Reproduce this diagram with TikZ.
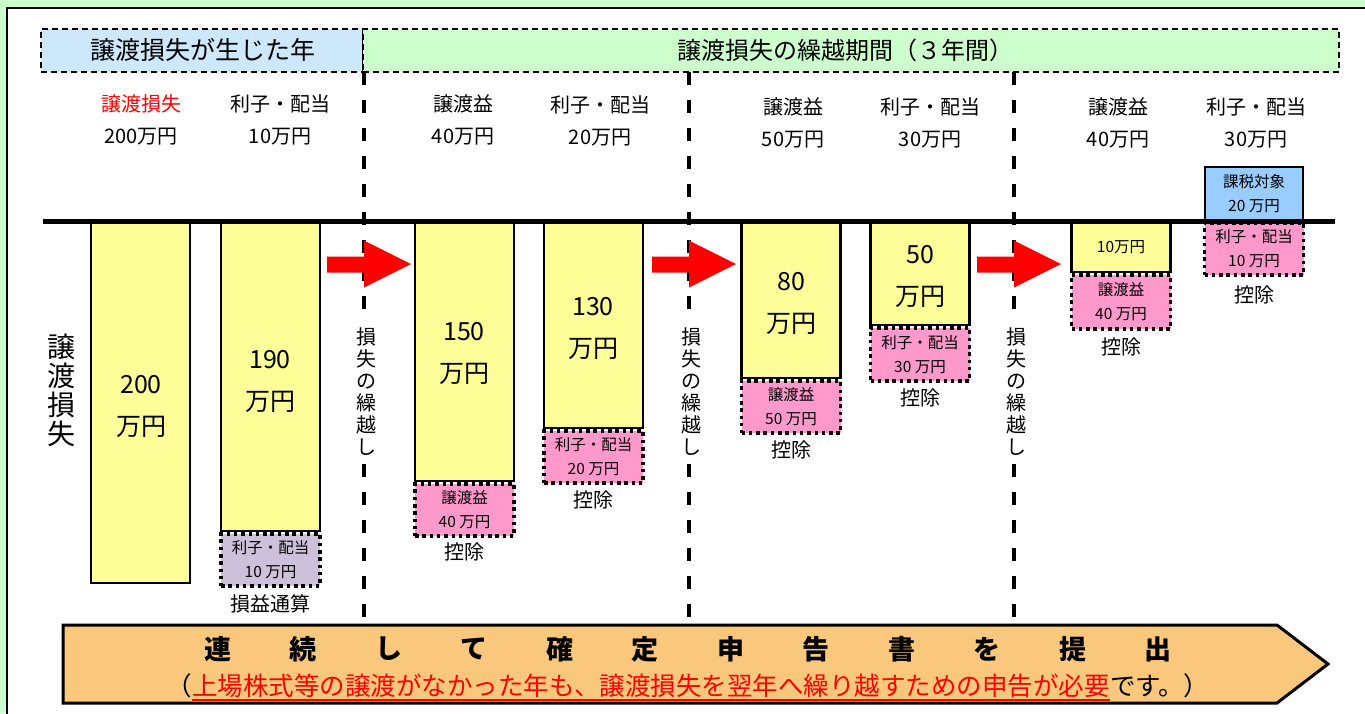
\documentclass[tikz,border=0pt]{standalone}
\usepackage{fontspec}
\setmainfont{Noto Sans CJK JP}
\definecolor{bggreen}{RGB}{204,255,204}
\definecolor{hdrblue}{RGB}{204,232,250}
\definecolor{baryellow}{RGB}{255,255,153}
\definecolor{dedpink}{RGB}{255,153,204}
\definecolor{lav}{RGB}{204,192,218}
\definecolor{taxblue}{RGB}{153,204,255}
\definecolor{orng}{RGB}{250,200,125}
\newcommand\fsz[2]{\fontsize{#1}{#2}\selectfont}
\tikzset{
  lbl/.style={font=\fsz{20}{32}, inner sep=0pt, align=center},
  hdr/.style={draw=black, line width=2pt, dash pattern=on 6pt off 4pt, inner sep=0pt},
  bar/.style={draw=black, line width=2.2pt, fill=baryellow, anchor=north, minimum width=99pt, inner sep=0pt},
  bartxt/.style={font=\fsz{25}{42}, inner sep=0pt, align=center},
  ded/.style={draw=black, line width=3.5pt, dash pattern=on 3.5pt off 3.8pt, fill=dedpink, anchor=north,
    minimum width=99pt, inner sep=0pt, align=center, font=\fsz{15.5}{24}},
  kojo/.style={font=\fsz{20}{24}, inner sep=0pt},
  sep/.style={line width=4pt, dash pattern=on 13pt off 15pt},
  vtxt/.style={fill=white, font=\fsz{20}{22}, align=center, inner xsep=2pt, inner ysep=8pt},
  redarrow/.style={fill=red},
}
\begin{document}
\begin{tikzpicture}[x=1pt,y=-1pt]
\useasboundingbox (0,0) rectangle (1365,713);
% background
\fill[bggreen] (0,0) rectangle (1365,713);
\draw[line width=2.5pt, fill=white] (7,8) rectangle (1400,760);

% header boxes
\node[hdr, fill=hdrblue, minimum width=322pt, minimum height=43pt] (h1) at (202,50.5) {};
\node[hdr, fill=bggreen, minimum width=976pt, minimum height=43pt] (h2) at (851,50.5) {};
\node[font=\fsz{25}{25}, inner sep=0pt] (h1t) at (203,50) {譲渡損失が生じた年};
\node[font=\fsz{24}{24}, inner sep=0pt] (h2t) at (845,50) {譲渡損失の繰越期間（３年間）};

% separators
\foreach \x/\n in {364/s1,689/s2,1014/s3}{
  \coordinate (\n a) at (\x,72);
  \coordinate (\n b) at (\x,621);
  \draw[sep] (\n a) -- (\n b);
}

% top labels
\node[lbl] (l1) at (141,120) {\textcolor{red}{譲渡損失}\\200万円};
\node[lbl] (l2) at (280,120) {利子・配当\\10万円};
\node[lbl] (l3) at (463,120) {譲渡益\\40万円};
\node[lbl] (l4) at (600,121) {利子・配当\\20万円};
\node[lbl] (l5) at (793,123) {譲渡益\\50万円};
\node[lbl] (l6) at (930,123) {利子・配当\\30万円};
\node[lbl] (l7) at (1118,123) {譲渡益\\40万円};
\node[lbl] (l8) at (1256,123) {利子・配当\\30万円};

% bars
\node[bar, minimum height=361pt] (b1) at (140.5,221) {};
\node[bar, minimum height=309pt] (b2) at (270.5,221) {};
\node[bar, minimum height=259pt] (b3) at (464.5,221) {};
\node[bar, minimum height=206pt] (b4) at (593.5,221) {};
\node[bar, minimum height=156pt] (b5) at (791,221) {};
\node[bar, minimum height=103pt] (b6) at (920,221) {};
\node[bar, minimum height=50pt] (b7) at (1121,221) {};

\node[bartxt] (b1t) at (141,406) {200\\万円};
\node[bartxt] (b2t) at (270,381) {190\\万円};
\node[bartxt] (b3t) at (464,353) {150\\万円};
\node[bartxt] (b4t) at (593,328) {130\\万円};
\node[bartxt] (b5t) at (791,303) {80\\万円};
\node[bartxt] (b6t) at (920,276) {50\\万円};
\node[font=\fsz{15.5}{18}, inner sep=0pt] (b7t) at (1121,247) {10万円};

% deductions
\node[ded, fill=lav, minimum height=52pt] (d2) at (b2.south) {利子・配当\\10 万円};
\node[ded, minimum height=52pt] (d3) at (b3.south) {譲渡益\\40 万円};
\node[ded, minimum height=52pt] (d4) at (b4.south) {利子・配当\\20 万円};
\node[ded, minimum height=52pt] (d5) at (b5.south) {譲渡益\\50 万円};
\node[ded, minimum height=53pt] (d6) at (b6.south) {利子・配当\\30 万円};
\node[ded, minimum height=54pt] (d7) at (b7.south) {譲渡益\\40 万円};
\node[draw=black, line width=2.5pt, fill=taxblue, minimum width=98pt, minimum height=54pt,
  inner sep=0pt, align=center, font=\fsz{15.5}{24}] (tax) at (1254,194) {課税対象\\20 万円};
\node[ded, minimum height=52pt] (d8) at (1254,221) {利子・配当\\10 万円};

\node[kojo] (k2) at (270,604) {損益通算};
\node[kojo] (k3) at (464,552) {控除};
\node[kojo] (k4) at (593,500) {控除};
\node[kojo] (k5) at (791,450) {控除};
\node[kojo] (k6) at (920,398) {控除};
\node[kojo] (k7) at (1121,347) {控除};
\node[kojo] (k8) at (1254,295) {控除};

% axis
\coordinate (ax1) at (43,221);
\coordinate (ax2) at (1335,221);
\draw[line width=5pt] (ax1) -- (ax2);

% carry-over arrows and vertical texts
\foreach \x/\n in {364/a1,689/a2,1014/a3}{
  \fill[redarrow] (\x-37,256.5) -- (\x,256.5) -- (\x,240.5) -- (\x+47,264) -- (\x,287.5) -- (\x,272.5) -- (\x-37,272.5) -- cycle;
  \node[vtxt] (\n) at (\x+2,392) {損\\失\\の\\繰\\越\\し};
}

% left vertical label
\node[font=\fsz{28}{29}, align=center, inner sep=0pt] (vl) at (61,390) {譲\\渡\\損\\失};

% bottom arrow
\draw[line width=3pt, fill=orng, line join=miter] (63,625) -- (1277,625) -- (1328,664) -- (1277,703) -- (63,703) -- cycle;
\foreach \c [count=\i from 0] in {連,続,し,て,確,定,申,告,書,を,提,出}{
  \node[font=\fsz{27}{27}\bfseries, inner sep=0pt] (t\i) at ({218+85.45*\i},649) {\c};
}
\node[font=\fsz{25.5}{25.5}, text=red, inner sep=0pt] (note) at (651,686) {上場株式等の譲渡がなかった年も、譲渡損失を翌年へ繰り越すための申告が必要};
\node[font=\fsz{25.5}{25.5}, inner sep=0pt, anchor=base east] (np1) at (note.base west) {（};
\node[font=\fsz{25.5}{25.5}, inner sep=0pt, anchor=base west] (np2) at (note.base east) {です。）};
\draw[red, line width=2pt] ([yshift=-1.5pt]note.south west) -- ([yshift=-1.5pt]note.south east);
\end{tikzpicture}
\end{document}
